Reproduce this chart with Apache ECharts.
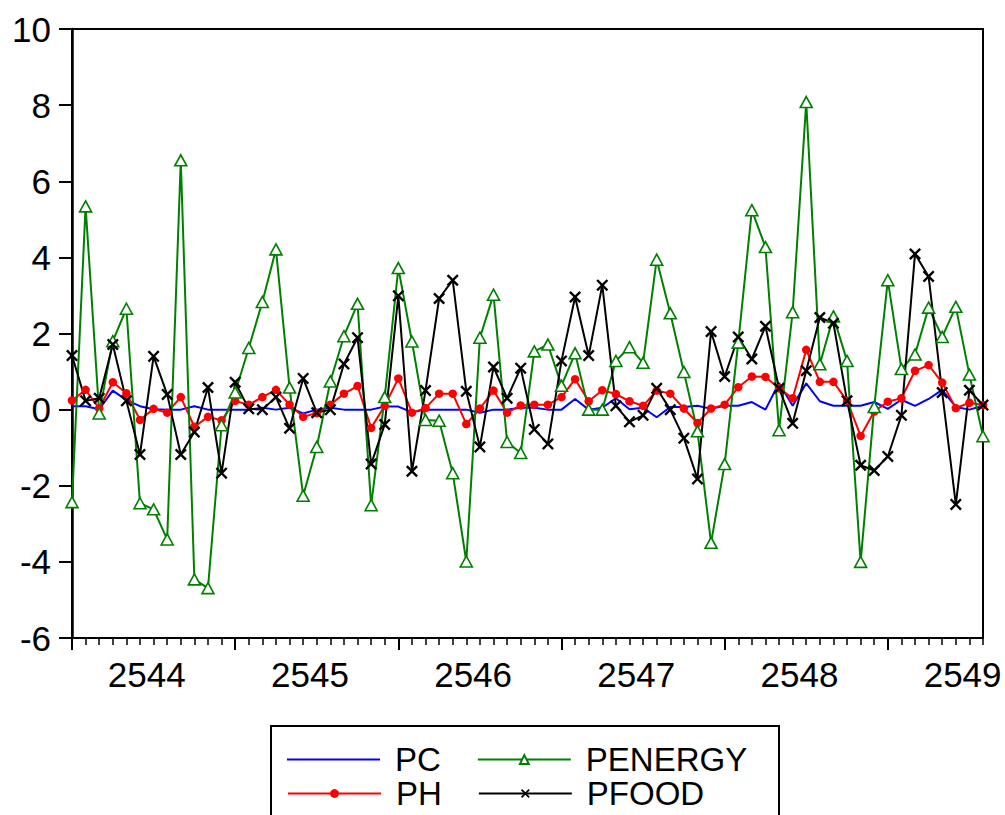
<!DOCTYPE html>
<html>
<head>
<meta charset="utf-8">
<script src="https://cdn.jsdelivr.net/npm/echarts@6/dist/echarts.min.js"></script>
<style>
  html, body { margin: 0; padding: 0; background: #fff; }
  #chart { width: 1005px; height: 815px; }
</style>
</head>
<body>
<div id="chart"></div>
<script>
// Monthly percentage changes, 2544 M1 – 2549 M8
const yearLabels = ['2544', '2545', '2546', '2547', '2548', '2549'];
const yTicks = { min: -6, max: 10, step: 2 };

const PC = [
  0.09, 0.09, 0.01, 0.50, 0.25, 0.09, 0.01, 0.00, 0.00, 0.09, 0.00, 0.00,
  0.00, 0.00, 0.05, 0.00, 0.05, -0.10, 0.00, 0.05, 0.00, 0.00, 0.00, 0.08,
  0.08, -0.07, 0.00, 0.00, 0.00, 0.00, -0.08, 0.00, 0.00, 0.05, 0.05, 0.00,
  0.00, 0.28, 0.00, 0.05, 0.30, 0.01, 0.05, -0.20, 0.07, 0.07, 0.10, 0.02,
  0.10, 0.10, 0.20, 0.00, 0.70, 0.10, 0.69, 0.22, 0.10, 0.10, 0.10, 0.20,
  0.02, 0.26, 0.10, 0.28, 0.52, 0.07, 0.00, 0.10
];
const PH = [
  0.24, 0.52, 0.03, 0.72, 0.43, -0.27, 0.02, -0.08, 0.33, -0.45, -0.19, -0.28,
  0.23, 0.13, 0.33, 0.52, 0.13, -0.19, -0.09, 0.13, 0.42, 0.62, -0.48, 0.10,
  0.82, -0.08, 0.04, 0.42, 0.42, -0.38, 0.03, 0.50, -0.08, 0.11, 0.13, 0.13,
  0.33, 0.80, 0.22, 0.51, 0.41, 0.22, 0.10, 0.50, 0.42, 0.03, -0.35, 0.03,
  0.13, 0.59, 0.87, 0.86, 0.56, 0.30, 1.57, 0.73, 0.73, 0.23, -0.69, -0.05,
  0.21, 0.30, 1.02, 1.17, 0.71, 0.04, 0.18, 0.12
];
const PENERGY = [
  -2.43, 5.34, -0.10, 1.80, 2.65, -2.46, -2.62, -3.41, 6.55, -4.46, -4.69, -0.41,
  0.45, 1.62, 2.83, 4.21, 0.58, -2.26, -0.98, 0.74, 1.93, 2.78, -2.51, 0.33,
  3.72, 1.79, -0.27, -0.29, -1.67, -3.99, 1.89, 3.02, -0.85, -1.14, 1.53, 1.71,
  0.63, 1.48, 0.00, 0.00, 1.28, 1.64, 1.23, 3.94, 2.53, 0.99, -0.57, -3.50,
  -1.43, 1.76, 5.24, 4.27, -0.54, 2.56, 8.08, 1.19, 2.45, 1.28, -4.00, 0.07,
  3.40, 1.07, 1.45, 2.68, 1.91, 2.70, 0.92, -0.70
];
const PFOOD = [
  1.42, 0.23, 0.30, 1.71, 0.23, -1.18, 1.40, 0.40, -1.18, -0.59, 0.58, -1.67,
  0.72, 0.02, 0.00, 0.33, -0.49, 0.82, -0.08, 0.00, 1.20, 1.89, -1.43, -0.39,
  2.99, -1.62, 0.50, 2.92, 3.40, 0.48, -0.98, 1.12, 0.30, 1.09, -0.52, -0.90,
  1.28, 2.96, 1.42, 3.27, 0.10, -0.32, -0.15, 0.56, 0.00, -0.75, -1.82, 2.05,
  0.87, 1.91, 1.33, 2.19, 0.56, -0.36, 1.02, 2.42, 2.27, 0.23, -1.46, -1.60,
  -1.23, -0.15, 4.09, 3.50, 0.45, -2.49, 0.51, 0.12
];

// Month categories derived from the year labels
const months = PC.map((_, i) => yearLabels[Math.floor(i / 12)] + 'M' + ((i % 12) + 1));
// Slots between consecutive months; the year name sits in the middle of its twelve months
const yearSlots = months.slice(0, -1).map((_, i) => yearLabels[Math.floor(i / 12)]);

const FONT = '"Liberation Sans", Arial, sans-serif';
const crossPath = 'path://M0,1.4L1.4,0L5,3.6L8.6,0L10,1.4L6.4,5L10,8.6L8.6,10L5,6.4L1.4,10L0,8.6L3.6,5Z';
const plainLine = 'path://M0,0H93V2H0Z';

const chart = echarts.init(document.getElementById('chart'), null, { renderer: 'svg' });

const legendText = { fontFamily: FONT, fontSize: 33, color: '#000', lineHeight: 32, padding: [0, 0, 0, 10] };

chart.setOption({
  animation: false,
  backgroundColor: '#fff',
  grid: {
    left: 72, right: 22, top: 29, bottom: 177,
    outerBoundsMode: 'none', containLabel: false,
    show: true, borderColor: '#000', borderWidth: 2, backgroundColor: 'transparent'
  },
  xAxis: [
    {
      type: 'category', data: months, boundaryGap: false, position: 'bottom', offset: 0,
      axisLine: { onZero: false, lineStyle: { color: '#000', width: 2 } },
      axisTick: { interval: 0, length: 7, lineStyle: { color: '#000', width: 1.5 } },
      axisLabel: { show: false },
      splitLine: { show: false }
    },
    {
      type: 'category', data: months, boundaryGap: false, position: 'bottom', offset: 0,
      axisLine: { show: false, onZero: false },
      axisTick: { interval: (i) => i % 12 === 0, length: 12, lineStyle: { color: '#000', width: 2 } },
      axisLabel: { show: false },
      splitLine: { show: false }
    },
    {
      type: 'category', data: yearSlots, boundaryGap: true, position: 'bottom', offset: 0,
      axisLine: { show: false, onZero: false },
      axisTick: { show: false },
      axisLabel: {
        interval: (i) => i % 12 === 5,
        fontFamily: FONT, fontSize: 35, color: '#000', margin: 19
      },
      splitLine: { show: false }
    }
  ],
  yAxis: {
    type: 'value', min: yTicks.min, max: yTicks.max, interval: yTicks.step,
    axisLine: { show: true, onZero: false, lineStyle: { color: '#000', width: 2.5 } },
    axisTick: { show: true, length: 13, lineStyle: { color: '#000', width: 2 } },
    axisLabel: { fontFamily: FONT, fontSize: 35, color: '#000', margin: 21 },
    splitLine: { show: false }
  },
  legend: [
    {
      data: [{ name: 'PC', icon: plainLine, itemStyle: { color: '#0000ff' } }, 'PENERGY'],
      orient: 'horizontal', left: 287, top: 743, padding: 0,
      itemWidth: 93, itemHeight: 11, itemGap: 36, textStyle: legendText,
      selectedMode: false
    },
    {
      data: ['PH', 'PFOOD'], orient: 'horizontal', left: 287, top: 777, padding: 0,
      itemWidth: 93, itemHeight: 11, itemGap: 36, textStyle: legendText,
      selectedMode: false
    }
  ],
  graphic: [
    {
      type: 'rect', left: 270, top: 725, z: -1, silent: true,
      shape: { width: 508, height: 120 },
      style: { fill: '#fff', stroke: '#000', lineWidth: 2 }
    }
  ],
  series: [
    {
      name: 'PC', type: 'line', data: PC, xAxisIndex: 0,
      symbol: 'none', lineStyle: { color: '#0000ff', width: 2 }, itemStyle: { color: '#0000ff' }
    },
    {
      name: 'PH', type: 'line', data: PH, xAxisIndex: 0,
      symbol: 'circle', symbolSize: 8.5, showAllSymbol: true,
      lineStyle: { color: '#ff0000', width: 2 }, itemStyle: { color: '#ff0000' }
    },
    {
      name: 'PENERGY', type: 'line', data: PENERGY, xAxisIndex: 0,
      symbol: 'triangle', symbolSize: [12, 11], showAllSymbol: true,
      lineStyle: { color: '#008000', width: 2 },
      itemStyle: { color: '#fff', borderColor: '#008000', borderWidth: 1.6 }
    },
    {
      name: 'PFOOD', type: 'line', data: PFOOD, xAxisIndex: 0,
      symbol: crossPath, symbolSize: 12, showAllSymbol: true,
      lineStyle: { color: '#000', width: 2 }, itemStyle: { color: '#000' }
    }
  ]
});
</script>
</body>
</html>
